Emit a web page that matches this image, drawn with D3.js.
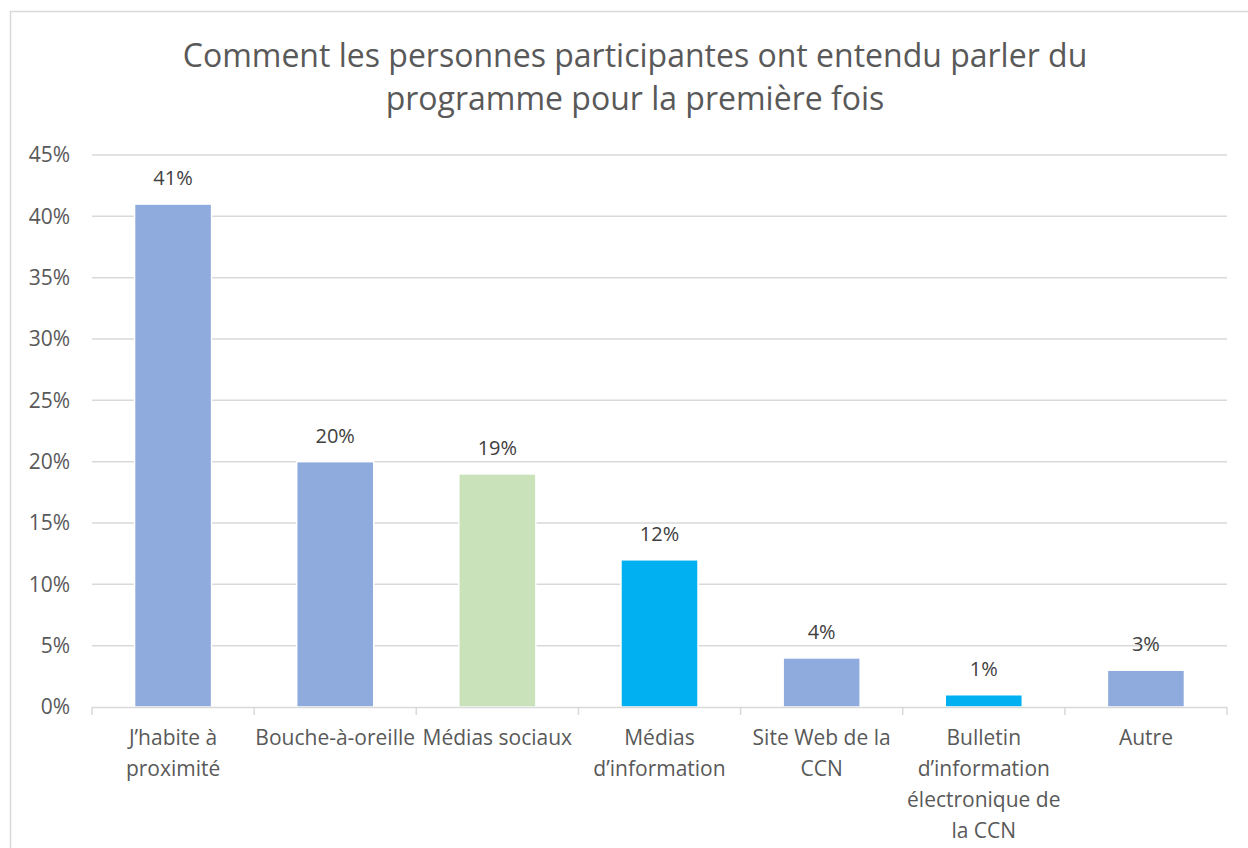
<!DOCTYPE html>
<html>
<head>
<meta charset="utf-8">
<script src="https://cdn.jsdelivr.net/npm/d3@7"></script>
<style>
  body { margin: 0; background: #fff; }
  text { font-family: "Open Sans", sans-serif; }
</style>
</head>
<body>
<script>
var width = 1248, height = 848;

var titleLines = ["Comment les personnes participantes ont entendu parler du", "programme pour la première fois"];
var categories = ["J’habite à proximité", "Bouche-à-oreille", "Médias sociaux", "Médias d’information", "Site Web de la CCN", "Bulletin d’information électronique de la CCN", "Autre"];
var values = [41, 20, 19, 12, 4, 1, 3];
var barColors = ["#8FAADC", "#8FAADC", "#C9E2BA", "#00B0F0", "#8FAADC", "#00B0F0", "#8FAADC"];
var yTicks = [0, 5, 10, 15, 20, 25, 30, 35, 40, 45];

var svg = d3.select("body").append("svg")
    .attr("width", width).attr("height", height);

// chart frame
svg.append("rect").attr("x", 10.5).attr("y", 11.5).attr("width", 1260).attr("height", 860)
    .attr("fill", "#fff").attr("stroke", "#d9d9d9").attr("stroke-width", 1.5);

var x = d3.scaleBand().domain(categories).range([92, 1227]).paddingInner(0.525).paddingOuter(0.2625);
var y = d3.scaleLinear().domain([0, 45]).range([707, 155]);

// title
svg.append("g").selectAll("text").data(titleLines).enter().append("text")
    .attr("x", 635).attr("y", function(d, i) { return 67 + i * 43; })
    .attr("text-anchor", "middle").attr("font-size", 32).attr("fill", "#595959")
    .text(function(d) { return d; });

// gridlines
svg.append("g").selectAll("line").data(yTicks.slice(1)).enter().append("line")
    .attr("x1", 92).attr("x2", 1227)
    .attr("y1", function(d) { return y(d); }).attr("y2", function(d) { return y(d); })
    .attr("stroke", "#d9d9d9").attr("stroke-width", 1.5);

// y labels
svg.append("g").selectAll("text").data(yTicks).enter().append("text")
    .attr("x", 70).attr("y", function(d) { return y(d); }).attr("dy", "0.35em")
    .attr("text-anchor", "end").attr("font-size", 21).attr("fill", "#595959")
    .text(function(d) { return d + "%"; });

// bars
svg.append("g").selectAll("rect").data(values).enter().append("rect")
    .attr("x", function(d, i) { return x(categories[i]); })
    .attr("y", function(d) { return y(d); })
    .attr("width", x.bandwidth())
    .attr("height", function(d) { return y(0) - y(d); })
    .attr("fill", function(d, i) { return barColors[i]; })
    .attr("stroke", "#fff").attr("stroke-width", 1.5);

// x axis line + ticks
var xAxis = svg.append("g");
xAxis.append("line").attr("x1", 92).attr("x2", 1227).attr("y1", 707.5).attr("y2", 707.5)
    .attr("stroke", "#d9d9d9").attr("stroke-width", 1.5);
var bounds = d3.range(categories.length + 1).map(function(i) { return 92 + i * x.step(); });
xAxis.selectAll(".tick").data(bounds).enter().append("line")
    .attr("x1", function(d) { return d; }).attr("x2", function(d) { return d; })
    .attr("y1", 707).attr("y2", 715)
    .attr("stroke", "#d9d9d9").attr("stroke-width", 1.5);

// data labels
svg.append("g").selectAll("text").data(values).enter().append("text")
    .attr("x", function(d, i) { return x(categories[i]) + x.bandwidth() / 2; })
    .attr("y", function(d) { return y(d) - 19; })
    .attr("text-anchor", "middle").attr("font-size", 20).attr("fill", "#404040")
    .text(function(d) { return Math.round(d) + "%"; });

// category labels, wrapped to the band step
var catLabels = svg.append("g").selectAll("text").data(categories).enter().append("text")
    .attr("text-anchor", "middle").attr("font-size", 21).attr("fill", "#595959")
    .attr("x", function(d) { return x(d) + x.bandwidth() / 2; })
    .attr("y", 745);

catLabels.each(function(d) {
    var el = d3.select(this), cx = x(d) + x.bandwidth() / 2;
    var words = d.split(" "), line = [], lines = [];
    var probe = el.append("tspan");
    words.forEach(function(w) {
        line.push(w);
        probe.text(line.join(" "));
        if (probe.node().getComputedTextLength() > x.step() && line.length > 1) {
            line.pop();
            lines.push(line.join(" "));
            line = [w];
        }
    });
    lines.push(line.join(" "));
    probe.remove();
    lines.forEach(function(l, i) {
        el.append("tspan").attr("x", cx).attr("y", 745 + i * 31).text(l);
    });
});
</script>
</body>
</html>
